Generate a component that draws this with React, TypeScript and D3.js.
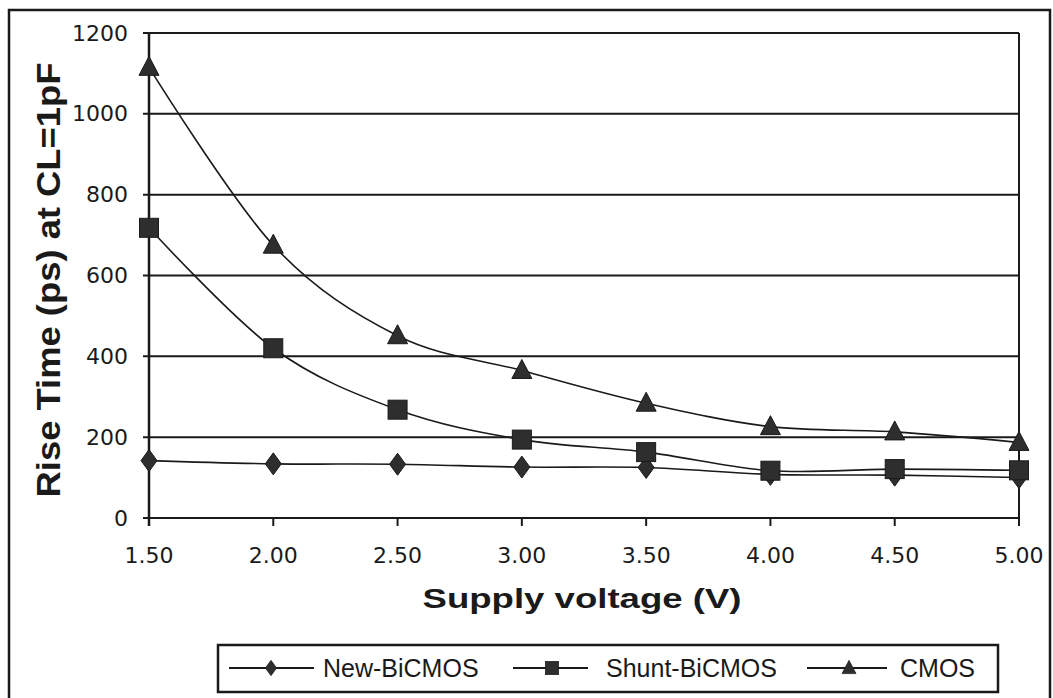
import React from "react";
import * as d3 from "d3";

const voltages = [1.5, 2.0, 2.5, 3.0, 3.5, 4.0, 4.5, 5.0];
const newBiCMOS = [142, 134, 133, 126, 125, 108, 106, 100];
const shuntBiCMOS = [718, 420, 268, 194, 163, 117, 121, 118];
const cmos = [1115, 675, 451, 365, 284, 226, 213, 187];
const yTicks = [0, 200, 400, 600, 800, 1000, 1200];
const seriesNames = ["New-BiCMOS", "Shunt-BiCMOS", "CMOS"];
const xTitle = "Supply voltage (V)";
const yTitle = "Rise Time (ps) at CL=1pF";

const W = 1053;
const H = 698;
const plot = { left: 149, right: 1019, top: 33, bottom: 518 };
const INK = "#1a1a1a";
const MARK = "#2e2e2e";

function Marker({ kind, x, y }: { kind: string; x: number; y: number }) {
  if (kind === "diamond") {
    const p = `M${x},${y - 11} L${x + 8},${y} L${x},${y + 11} L${x - 8},${y} Z`;
    return <path d={p} fill={MARK} stroke={INK} strokeWidth={1} />;
  }
  if (kind === "square") {
    return <rect x={x - 9.5} y={y - 9.5} width={19} height={19} fill={MARK} stroke={INK} strokeWidth={1} />;
  }
  const p = `M${x},${y - 11} L${x + 10},${y + 8} L${x - 10},${y + 8} Z`;
  return <path d={p} fill={MARK} stroke={INK} strokeWidth={1} />;
}

export default function App() {
  const x = d3.scaleLinear().domain([1.5, 5.0]).range([plot.left, plot.right]);
  const y = d3.scaleLinear().domain([0, 1200]).range([plot.bottom, plot.top]);
  const line = d3
    .line<number>()
    .x((_, i) => x(voltages[i]))
    .y((d) => y(d))
    .curve(d3.curveCatmullRom.alpha(0));

  const series = [
    { name: seriesNames[0], values: newBiCMOS, kind: "diamond" },
    { name: seriesNames[1], values: shuntBiCMOS, kind: "square" },
    { name: seriesNames[2], values: cmos, kind: "triangle" },
  ];

  const legendItems = [
    { l1: 229, l2: 314, m: 271, tx: 323 },
    { l1: 513, l2: 588, m: 552, tx: 606 },
    { l1: 807, l2: 887, m: 849, tx: 900 },
  ];
  const legendY = 668;

  return (
    <div style={{ position: "fixed", left: 0, top: 0, width: W, height: H, background: "#fff" }}>
      <svg width={W} height={H} style={{ display: "block" }}>
        <rect x={0} y={0} width={W} height={H} fill="#fff" />
        {/* outer frame */}
        <rect x={9} y={10} width={1041} height={720} fill="none" stroke={INK} strokeWidth={2.5} />

        {/* gridlines */}
        {yTicks.map((t) => (
          <line key={"g" + t} x1={plot.left - 6} x2={plot.right} y1={y(t)} y2={y(t)} stroke={INK} strokeWidth={2} />
        ))}
        {/* right plot border */}
        <line x1={plot.right} x2={plot.right} y1={plot.top} y2={plot.bottom} stroke={INK} strokeWidth={2} />
        {/* y axis */}
        <line x1={plot.left} x2={plot.left} y1={plot.top} y2={plot.bottom + 8} stroke={INK} strokeWidth={2.5} />
        {/* x ticks */}
        {voltages.map((v) => (
          <line key={"xt" + v} x1={x(v)} x2={x(v)} y1={plot.bottom} y2={plot.bottom + 8} stroke={INK} strokeWidth={2} />
        ))}

        {/* y tick labels */}
        {yTicks.map((t) => (
          <text
            key={"yl" + t}
            x={128}
            y={y(t)}
            textAnchor="end"
            dominantBaseline="central"
            fontFamily="DejaVu Sans, sans-serif"
            fontSize={22}
            fill={INK}
          >
            {t}
          </text>
        ))}
        {/* x tick labels */}
        {voltages.map((v) => (
          <text
            key={"xl" + v}
            x={x(v)}
            y={563}
            textAnchor="middle"
            fontFamily="DejaVu Sans, sans-serif"
            fontSize={22}
            fill={INK}
          >
            {v.toFixed(2)}
          </text>
        ))}

        {/* lines */}
        {series.map((s) => (
          <path key={"p" + s.name} d={line(s.values) || ""} fill="none" stroke={INK} strokeWidth={1.6} />
        ))}
        {/* markers */}
        {series.map((s) =>
          s.values.map((v, i) => <Marker key={s.name + i} kind={s.kind} x={x(voltages[i])} y={y(v)} />)
        )}

        {/* axis titles */}
        <text
          x={582}
          y={608}
          textAnchor="middle"
          fontFamily="Liberation Sans, Arial, sans-serif"
          fontWeight="bold"
          fontSize={28}
          textLength={319}
          lengthAdjust="spacingAndGlyphs"
          fill={INK}
        >
          {xTitle}
        </text>
        <text
          transform="translate(60,280) rotate(-90)"
          textAnchor="middle"
          fontFamily="Liberation Sans, Arial, sans-serif"
          fontWeight="bold"
          fontSize={33}
          textLength={435}
          lengthAdjust="spacingAndGlyphs"
          fill={INK}
        >
          {yTitle}
        </text>

        {/* legend */}
        <rect x={218} y={645} width={780} height={47} fill="#fff" stroke={INK} strokeWidth={2.5} />
        {series.map((s, i) => {
          const li = legendItems[i];
          return (
            <g key={"lg" + s.name}>
              <line x1={li.l1} x2={li.l2} y1={legendY} y2={legendY} stroke={INK} strokeWidth={2} />
              <g transform={`translate(${li.m},${legendY}) scale(0.7) translate(${-li.m},${-legendY})`}>
                <Marker kind={s.kind} x={li.m} y={legendY} />
              </g>
              <text
                x={li.tx}
                y={legendY}
                dominantBaseline="central"
                fontFamily="Liberation Sans, Arial, sans-serif"
                fontSize={25}
                fill={INK}
              >
                {s.name}
              </text>
            </g>
          );
        })}
      </svg>
    </div>
  );
}
